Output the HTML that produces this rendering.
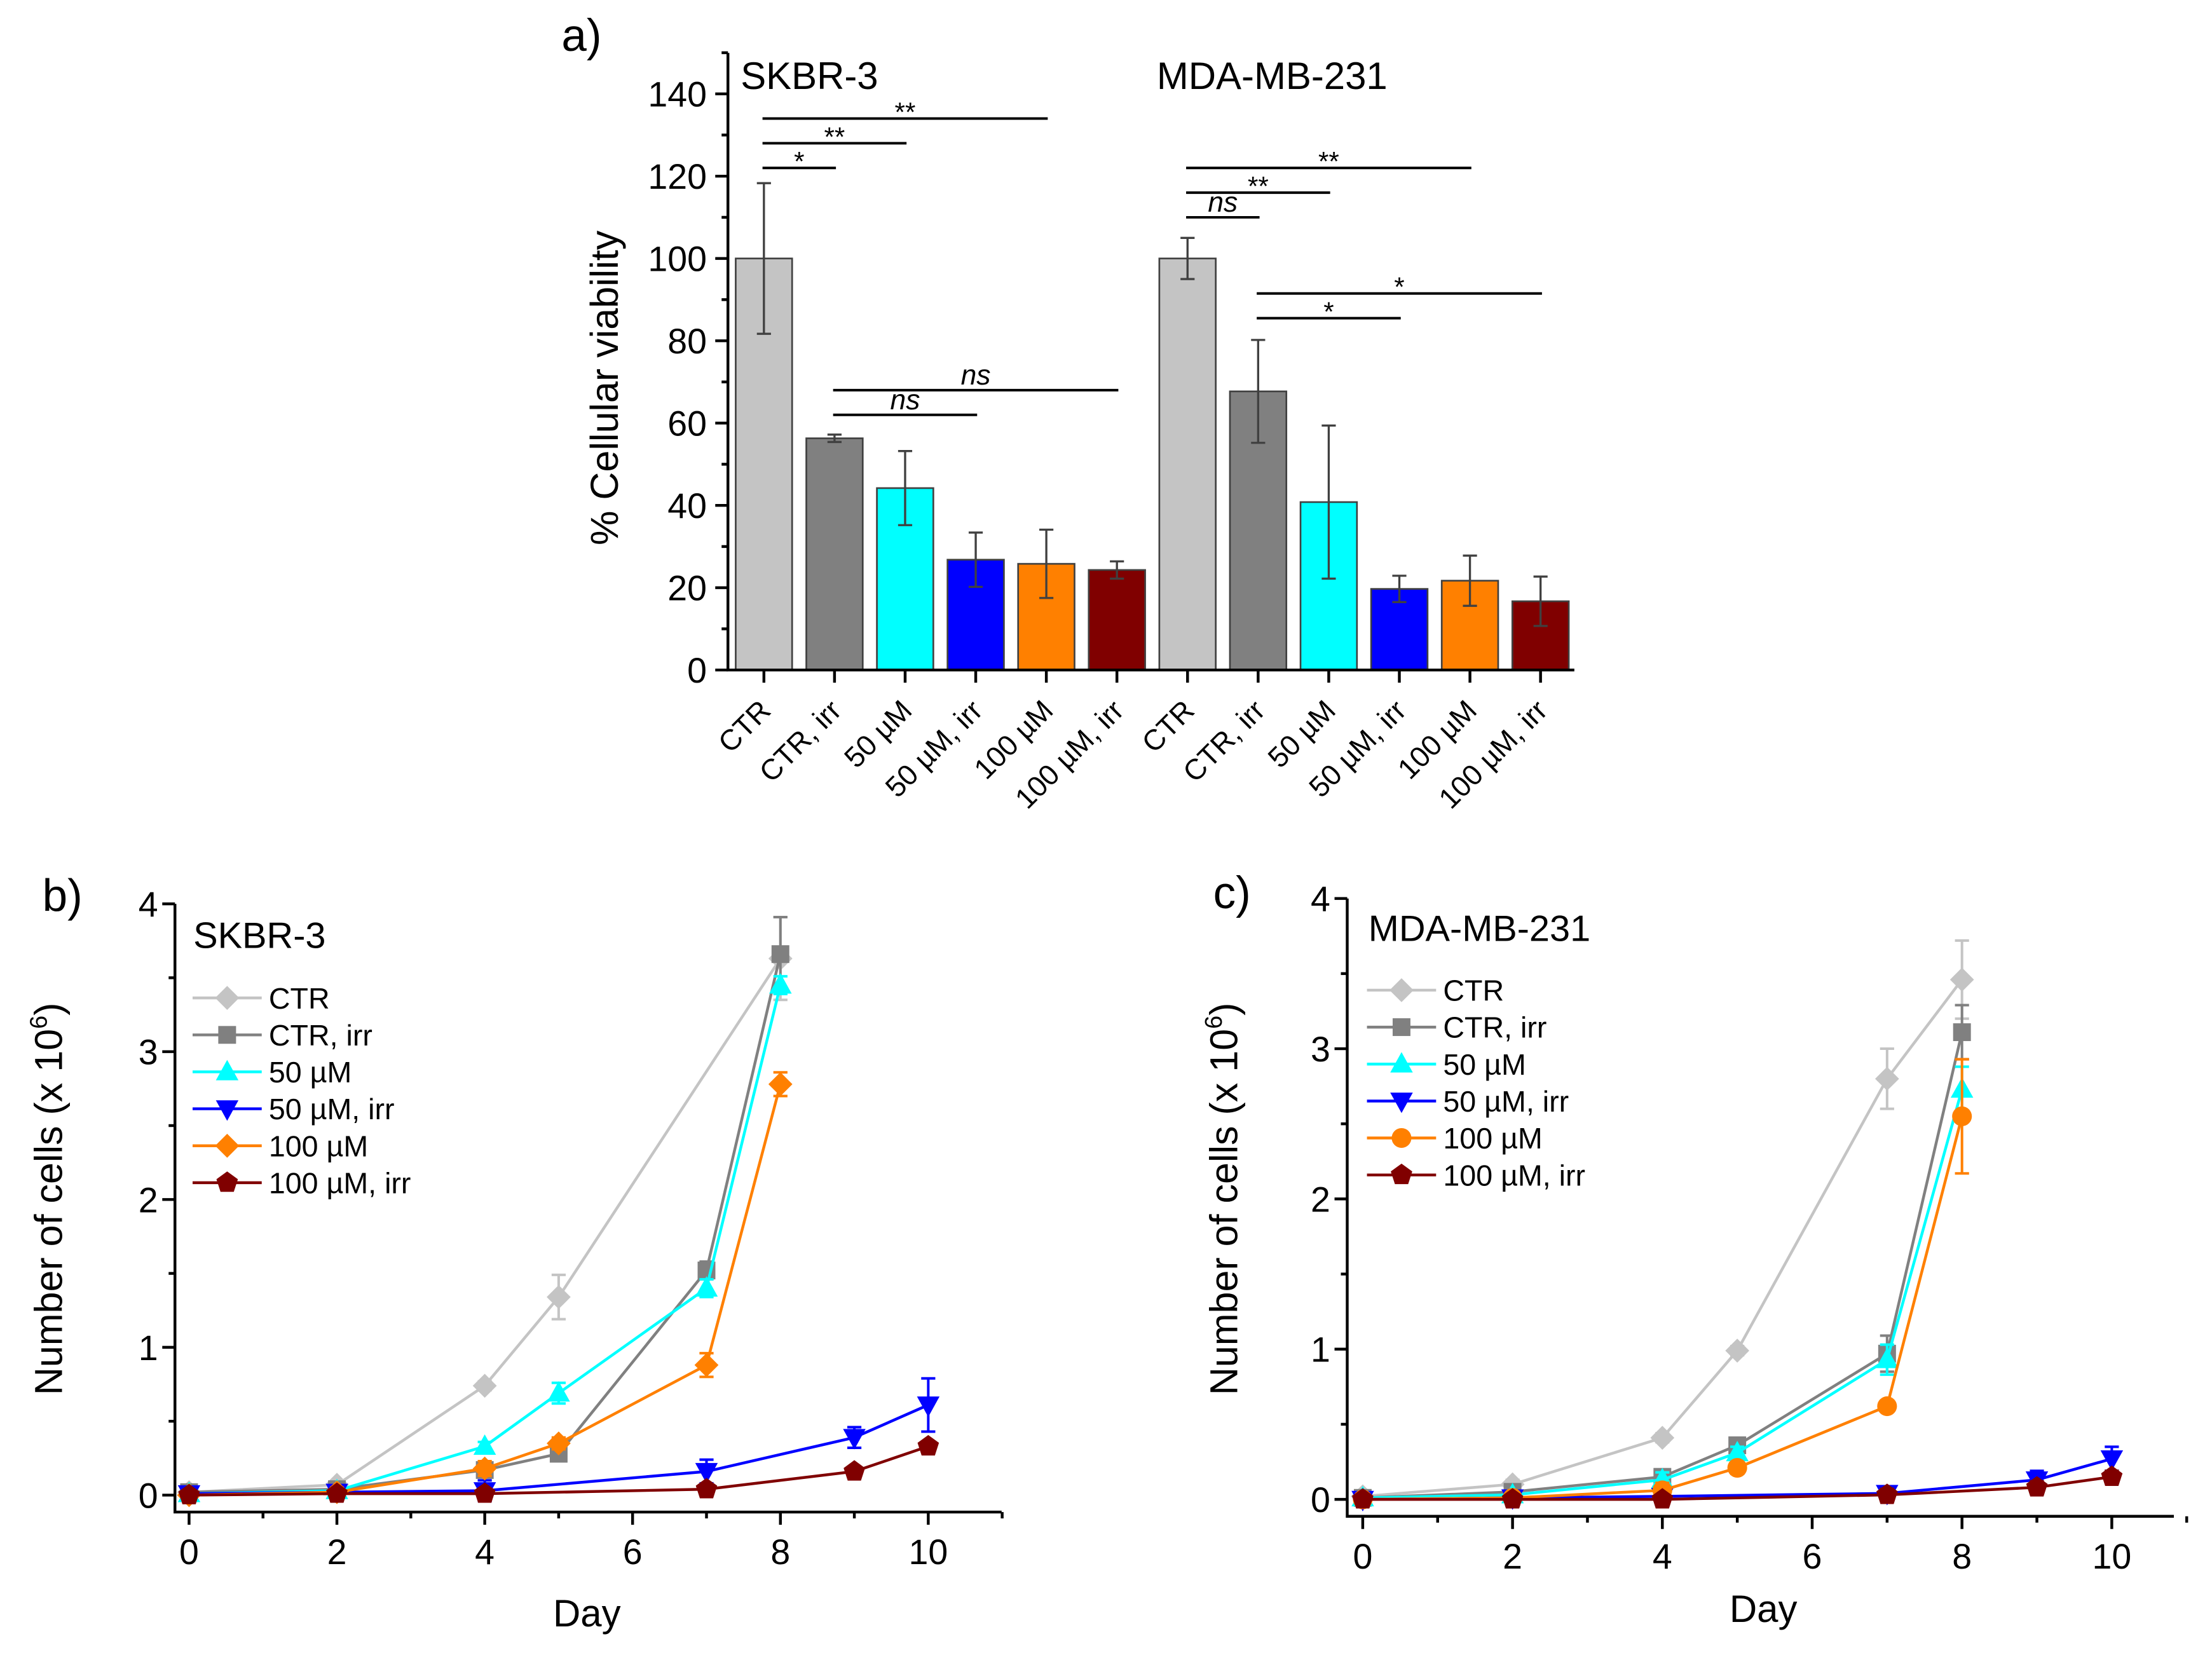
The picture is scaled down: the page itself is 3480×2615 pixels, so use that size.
<!DOCTYPE html>
<html><head><meta charset="utf-8"><style>
html,body{margin:0;padding:0;background:#fff;}
svg{display:block;font-family:"Liberation Sans",Arial,sans-serif;}
</style></head><body>
<svg id="fig" width="3480" height="2615" viewBox="0 0 1568 1178.3" xmlns="http://www.w3.org/2000/svg">
<rect width="1568" height="1178.3" fill="#fff"/>
<g id="pa"></g>
<g id="pb"></g>
<g id="pc"></g>
</svg>
<script>
// ---------- Panel a data ----------
const barCategories = ["CTR","CTR, irr","50 µM","50 µM, irr","100 µM","100 µM, irr","CTR","CTR, irr","50 µM","50 µM, irr","100 µM","100 µM, irr"];
const barValues = [100,56.3,44.2,26.8,25.8,24.3,100,67.7,40.8,19.7,21.7,16.7];
const barErrors = [18.3,0.9,9,6.6,8.3,2.1,5,12.5,18.6,3.2,6.1,6];
const barColors = ["#c4c4c4","#808080","#00ffff","#0000ff","#ff8000","#800000","#c4c4c4","#808080","#00ffff","#0000ff","#ff8000","#800000"];
const yTicksA = [0,20,40,60,80,100,120,140];
// significance brackets
const sigFrom = [0,0,0,1,1,6,6,6,7,7];
const sigTo = [1,2,4,3,5,7,8,10,9,11];
const sigLevel = [122,128,134,62,68,110,116,122,85.5,91.5];
const sigLabel = ["*","**","**","ns","ns","ns","**","**","*","*"];

// ---------- Panel b data (SKBR-3) ----------
const seriesNames = ["CTR","CTR, irr","50 µM","50 µM, irr","100 µM","100 µM, irr"];
const seriesColors = ["#c4c4c4","#808080","#00ffff","#0000ff","#ff8000","#800000"];
const bDays = [[0,2,4,5,8],[0,2,4,5,7,8],[0,2,4,5,7,8],[0,2,4,7,9,10],[0,2,4,5,7,8],[0,2,4,7,9,10]];
const bVals = [[0.02,0.07,0.74,1.34,3.63],[0.02,0.04,0.17,0.28,1.52,3.66],[0.01,0.03,0.33,0.69,1.40,3.45],[0.01,0.02,0.03,0.16,0.39,0.61],[0.0,0.02,0.18,0.35,0.88,2.78],[0.0,0.01,0.01,0.04,0.16,0.33]];
const bErrs = [[0.02,0.02,0.03,0.15,0.28],[0.01,0.02,0.05,0.04,0.06,0.25],[0.01,0.02,0.03,0.07,0.06,0.06],[0.01,0.02,0.07,0.08,0.07,0.18],[0.02,0.03,0.05,0.04,0.08,0.08],[0.01,0.02,0.02,0.03,0.03,0.03]];
// ---------- Panel c data (MDA-MB-231) ----------
const cDays = [[0,2,4,5,7,8],[0,2,4,5,7,8],[0,2,4,5,7,8],[0,2,4,7,9,10],[0,2,4,5,7,8],[0,2,4,7,9,10]];
const cVals = [[0.02,0.10,0.41,0.99,2.80,3.46],[0.01,0.05,0.15,0.36,0.97,3.11],[0.01,0.03,0.13,0.31,0.93,2.73],[0.0,0.01,0.02,0.04,0.13,0.27],[0.0,0.01,0.06,0.21,0.62,2.55],[0.0,0.0,0.0,0.03,0.08,0.15]];
const cErrs = [[0.02,0.03,0.03,0.03,0.2,0.26],[0.01,0.02,0.03,0.03,0.12,0.18],[0.02,0.02,0.05,0.04,0.1,0.15],[0.02,0.02,0.03,0.04,0.06,0.08],[0.01,0.02,0.05,0.04,0.03,0.38],[0.01,0.02,0.02,0.04,0.04,0.04]];
const xTicksDay = [0,2,4,6,8,10];
const yTicksCells = [0,1,2,3,4];

const NS="http://www.w3.org/2000/svg";
function mk(parent,tag,attrs,text){const e=document.createElementNS(NS,tag);for(const k in attrs)e.setAttribute(k,attrs[k]);if(text!==undefined)e.textContent=text;parent.appendChild(e);return e;}

// ================= Panel a =================
(function(){
const g=document.getElementById('pa');
const X0=516, Y0=475, yPer=58.35/20, firstC=541.5, step=50.05, bw=40;
const ya=v=>Y0-v*yPer, xa=i=>firstC+i*step;
let t=mk(g,'text',{x:398,y:36,'font-size':32},'a)');

t=mk(g,'text',{x:525,y:63,'font-size':27},'SKBR-3');

t=mk(g,'text',{x:820,y:63,'font-size':27},'MDA-MB-231');

t=mk(g,'text',{x:0,y:0,'font-size':27.5,'text-anchor':'middle',transform:'translate(438,275) rotate(-90)'},'% Cellular viability');

barValues.forEach((v,i)=>{
  const r=mk(g,'rect',{x:xa(i)-bw/2,y:ya(v),width:bw,height:Y0-ya(v),fill:barColors[i],stroke:'#404040','stroke-width':1.2});
  
  const e=barErrors[i];
  const eb=mk(g,'path',{d:`M${xa(i)},${ya(v+e)}V${ya(v-e)}M${xa(i)-5},${ya(v+e)}h10M${xa(i)-5},${ya(v-e)}h10`,stroke:'#404040','stroke-width':1.5,fill:'none'});
  
});
const ax=mk(g,'path',{d:`M${X0},37.5V${Y0}H1116`,stroke:'#000','stroke-width':2,fill:'none'});

yTicksA.forEach(v=>{
  const tk=mk(g,'line',{x1:X0-9,x2:X0,y1:ya(v),y2:ya(v),stroke:'#000','stroke-width':2});
  
  const mn=mk(g,'line',{x1:X0-4.5,x2:X0,y1:ya(v+10),y2:ya(v+10),stroke:'#000','stroke-width':2});
  
  const lb=mk(g,'text',{x:501,y:ya(v)+9,'font-size':25,'text-anchor':'end'},String(v));
  
});
barCategories.forEach((c,i)=>{
  const tk=mk(g,'line',{x1:xa(i),x2:xa(i),y1:Y0,y2:Y0+9,stroke:'#000','stroke-width':2});
  
  const lb=mk(g,'text',{x:0,y:0,'font-size':20.5,'text-anchor':'end',transform:`translate(${xa(i)+6},${Y0+30}) rotate(-45)`},c);
  
});
sigFrom.forEach((f,k)=>{
  const y=ya(sigLevel[k]);
  const l=mk(g,'line',{x1:xa(f)-1,x2:xa(sigTo[k])+1,y1:y,y2:y,stroke:'#000','stroke-width':1.8});
  
  const isNs=sigLabel[k]==='ns';
  const s=mk(g,'text',{x:(xa(f)+xa(sigTo[k]))/2,y:isNs?y-4:y+2,'font-size':isNs?20:19,'text-anchor':'middle','font-style':isNs?'italic':'normal'},sigLabel[k]);
  
});
})();

// ================= Line panels =================
function marker(g,shape,x,y,color){
  let e;
  if(shape==='diamond') e=mk(g,'path',{d:`M${x},${y-8.5}L${x+8.5},${y}L${x},${y+8.5}L${x-8.5},${y}Z`,fill:color});
  else if(shape==='square') e=mk(g,'rect',{x:x-6.3,y:y-6.3,width:12.6,height:12.6,fill:color});
  else if(shape==='up') e=mk(g,'path',{d:`M${x},${y-8.5}L${x+8},${y+6}L${x-8},${y+6}Z`,fill:color});
  else if(shape==='down') e=mk(g,'path',{d:`M${x},${y+8.5}L${x+8},${y-6}L${x-8},${y-6}Z`,fill:color});
  else if(shape==='circle') e=mk(g,'circle',{cx:x,cy:y,r:7,fill:color});
  else { let p=[];for(let k=0;k<5;k++){const a=-Math.PI/2+k*2*Math.PI/5;p.push((x+8*Math.cos(a)).toFixed(1)+','+(y+8*Math.sin(a)).toFixed(1));} e=mk(g,'polygon',{points:p.join(' '),fill:color}); }
  return e;
}
function linePanel(cfg){
  const g=document.getElementById(cfg.id);
  const xa=d=>cfg.x0+d*cfg.xPer, ya=v=>cfg.y0-v*cfg.yPer;
  let t=mk(g,'text',{x:cfg.lx,y:cfg.ly,'font-size':32},cfg.label);
  
  t=mk(g,'text',{x:cfg.tx,y:cfg.ty,'font-size':26},cfg.title);
  
  t=mk(g,'text',{x:0,y:0,'font-size':27.5,'text-anchor':'middle',transform:`translate(${cfg.ytx},${cfg.yty}) rotate(-90)`});
  
  mk(t,'tspan',{},'Number of cells (x 10');mk(t,'tspan',{'font-size':17,dy:-11},'6');mk(t,'tspan',{dy:11},')');
  t=mk(g,'text',{x:cfg.dx,y:cfg.dy,'font-size':27,'text-anchor':'middle'},'Day');
  
  const ax=mk(g,'path',{d:`M${cfg.ax},${ya(4)}V${cfg.axY}H${cfg.axR}`,stroke:'#000','stroke-width':2,fill:'none'});
  
  yTicksCells.forEach(v=>{
    const tk=mk(g,'line',{x1:cfg.ax-9,x2:cfg.ax,y1:ya(v),y2:ya(v),stroke:'#000','stroke-width':2});
    
    if(v<4){const mn=mk(g,'line',{x1:cfg.ax-4.5,x2:cfg.ax,y1:ya(v+0.5),y2:ya(v+0.5),stroke:'#000','stroke-width':2});
    }
    const lb=mk(g,'text',{x:cfg.ax-12,y:ya(v)+9,'font-size':25,'text-anchor':'end'},String(v));
    
  });
  xTicksDay.forEach(d=>{
    const tk=mk(g,'line',{x1:xa(d),x2:xa(d),y1:cfg.axY,y2:cfg.axY+9,stroke:'#000','stroke-width':2});
    
    const mn=mk(g,'line',{x1:xa(d+1),x2:xa(d+1),y1:cfg.axY,y2:cfg.axY+4.5,stroke:'#000','stroke-width':2});
    
    const lb=mk(g,'text',{x:xa(d),y:cfg.axY+37,'font-size':25,'text-anchor':'middle'},String(d));
    
  });
  cfg.days.forEach((ds,s)=>{
    const col=seriesColors[s];
    const sg=mk(g,'g',{});
    
    
    const pts=ds.map((d,i)=>xa(d)+','+ya(cfg.vals[s][i])).join(' ');
    const pl=mk(sg,'polyline',{points:pts,fill:'none',stroke:col,'stroke-width':2});
    
    ds.forEach((d,i)=>{
      const v=cfg.vals[s][i], e=cfg.errs[s][i], x=xa(d);
      const eb=mk(sg,'path',{d:`M${x},${ya(v+e)}V${ya(v-e)}M${x-5},${ya(v+e)}h10M${x-5},${ya(v-e)}h10`,stroke:col,'stroke-width':1.8,fill:'none'});
      
      const m=marker(sg,cfg.shapes[s],x,ya(v),col);
      
    });
    const ly=cfg.legY+s*cfg.legStep;
    const lg=mk(g,'g',{});
    
    mk(lg,'line',{x1:cfg.legX,x2:cfg.legX+49,y1:ly,y2:ly,stroke:col,'stroke-width':2});
    marker(lg,cfg.shapes[s],cfg.legX+24.5,ly,col);
    mk(lg,'text',{x:cfg.legX+54,y:ly+7.5,'font-size':21},seriesNames[s]);
  });
}
linePanel({id:'pb',x0:134,xPer:52.4,y0:1060,yPer:104.8,ax:124,axY:1072,axR:710,
  lx:30,ly:646,label:'b)',tx:137,ty:672,title:'SKBR-3',ytx:44,yty:850,dx:416,dy:1153,
  legX:136.5,legY:707.5,legStep:26.2,days:bDays,vals:bVals,errs:bErrs,
  shapes:['diamond','square','up','down','diamond','pentagon']});
linePanel({id:'pc',x0:966,xPer:53.1,y0:1063,yPer:106.5,ax:955,axY:1075,axR:1541,
  lx:860,ly:644,label:'c)',tx:970,ty:667,title:'MDA-MB-231',ytx:877,yty:850,dx:1250,dy:1150,
  legX:969,legY:702,legStep:26.2,days:cDays,vals:cVals,errs:cErrs,
  shapes:['diamond','square','up','down','circle','pentagon']});
</script>
</body></html>
